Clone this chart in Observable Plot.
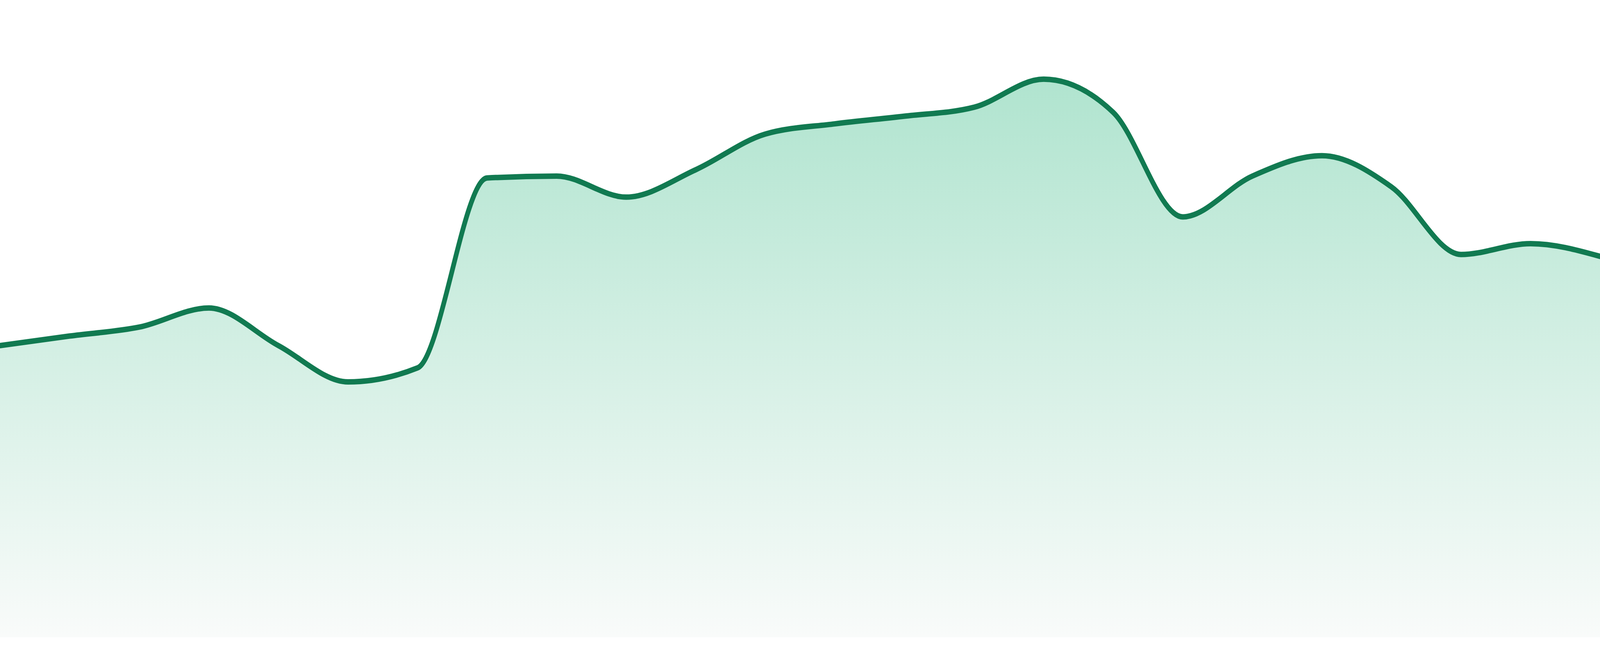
<!DOCTYPE html>
<html>
<head>
<meta charset="utf-8">
<script src="https://cdn.jsdelivr.net/npm/d3@7"></script>
<script src="https://cdn.jsdelivr.net/npm/@observablehq/plot@0.6"></script>
<style>
  html, body { margin: 0; padding: 0; background: #ffffff; overflow: hidden; width: 100vw; height: 100vh; }
  #chart { width: 100vw; height: 100vh; }
  #chart svg { display: block; }
</style>
</head>
<body>
<div id="chart"></div>
<script>
const day = [1, 2, 3, 4, 5, 6, 7, 8, 9, 10, 11, 12, 13, 14, 15, 16, 17, 18, 19, 20, 21, 22, 23, 24];
const value = [45.8, 47.3, 48.7, 51.7, 45.8, 40.1, 42.3, 72.1, 72.4, 69.1, 73.4, 79.0,
               80.6, 81.8, 83.2, 87.6, 82.4, 66.0, 72.4, 75.6, 70.7, 60.1, 61.8, 59.8];
const yDomain = [0, 100];

const lineColor = "#117a51";
const gradTop = "#b0e4cf";
const gradBottom = "#f9fbfa";

const data = day.map((d, i) => ({day: d, value: value[i]}));

// drawn in a 4800x1680 coordinate space, then fitted to the window
const chart = Plot.plot({
  width: 4800,
  height: 1680,
  marginTop: 0,
  marginRight: 0,
  marginBottom: 48,
  marginLeft: 0,
  style: {background: "#ffffff"},
  x: {domain: [day[0], day[day.length - 1]], axis: null},
  y: {domain: yDomain, axis: null},
  marks: [
    Plot.areaY(data, {x: "day", y: "value", curve: "monotone-x", fill: "url(#areaGrad)"}),
    Plot.lineY(data, {x: "day", y: "value", curve: "monotone-x", stroke: lineColor, strokeWidth: 14, strokeLinejoin: "round"})
  ]
});

const ns = "http://www.w3.org/2000/svg";
const defs = document.createElementNS(ns, "defs");
const grad = document.createElementNS(ns, "linearGradient");
grad.setAttribute("id", "areaGrad");
grad.setAttribute("x1", "0");
grad.setAttribute("y1", "0");
grad.setAttribute("x2", "0");
grad.setAttribute("y2", "1");
[[0, gradTop], [1, gradBottom]].forEach(([o, c]) => {
  const s = document.createElementNS(ns, "stop");
  s.setAttribute("offset", o);
  s.setAttribute("stop-color", c);
  grad.appendChild(s);
});
defs.appendChild(grad);
chart.insertBefore(defs, chart.firstChild);

chart.setAttribute("preserveAspectRatio", "none");
chart.style.width = "100vw";
chart.style.height = "100vh";
chart.style.maxWidth = "none";

document.getElementById("chart").appendChild(chart);
</script>
</body>
</html>
